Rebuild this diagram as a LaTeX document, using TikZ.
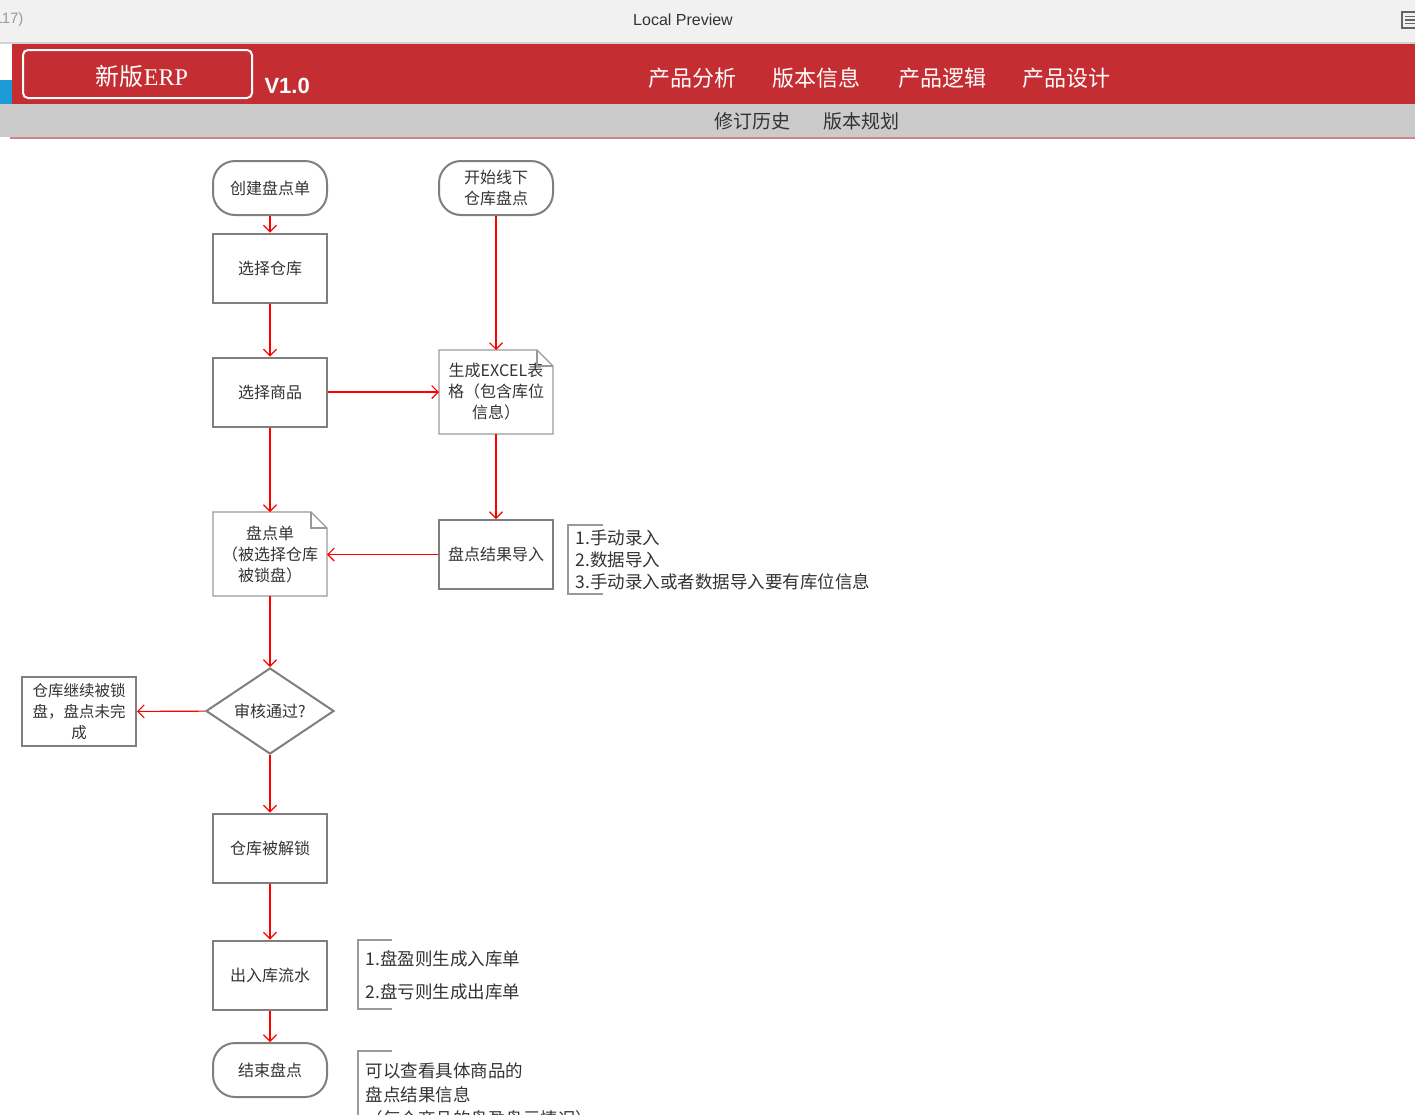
\documentclass[tikz,border=0pt]{standalone}
\usepackage{fontspec}
\setmainfont{Noto Sans CJK SC}
\newfontfamily\lib{Liberation Sans}
\newfontfamily\libser{Liberation Serif}
\usetikzlibrary{shapes.geometric,arrows.meta}
\definecolor{topgray}{HTML}{F1F1F1}
\definecolor{sepgray}{HTML}{D2D2D2}
\definecolor{barred}{HTML}{C42E32}
\definecolor{bargray}{HTML}{CBCBCB}
\definecolor{barblue}{HTML}{1A9AD6}
\definecolor{pinkline}{HTML}{D08484}
\definecolor{boxgray}{HTML}{7F7F7F}
\definecolor{docgray}{HTML}{999999}
\definecolor{txt}{HTML}{333333}
\definecolor{arrred}{HTML}{FF0000}
\definecolor{lightgraytxt}{HTML}{9A9A9A}
\newcommand\mydocpath[1]{%
  \draw[docline] (#1.north west) -- ([xshift=-16pt]#1.north east) -- ([yshift=-16pt]#1.north east) -- (#1.south east) -- (#1.south west) -- cycle;
  \draw[docline] ([xshift=-16pt]#1.north east) |- ([yshift=-16pt]#1.north east);}
\tikzset{
  box/.style={draw=boxgray, line width=2pt, minimum width=114pt, minimum height=69pt, inner sep=2pt, align=center, text=txt, font=\fontsize{16}{21}\selectfont},
  term/.style={box, rounded corners=22pt, minimum height=54pt},
  docnode/.style={minimum width=114pt, minimum height=84pt, outer sep=0pt, inner sep=0pt, align=center, text=txt, font=\fontsize{16}{21}\selectfont},
  docline/.style={draw=docgray, line width=1.2pt},
  dia/.style={diamond, draw=boxgray, line width=2pt, minimum width=128pt, minimum height=86pt, aspect=1.49, inner sep=0pt, text=txt, font=\fontsize{16}{21}\selectfont},
  arr/.style={draw=arrred, line width=1.1pt, -{Straight Barb[length=6.5pt,width=13pt]}},
  brk/.style={draw=docgray, line width=2pt},
  ann/.style={anchor=west, align=left, text=txt},
  menu/.style={text=white, font=\fontsize{22}{22}\selectfont},
  submenu/.style={text=txt, font=\fontsize{19}{19}\selectfont},
}
\begin{document}
\begin{tikzpicture}[x=1pt,y=-1pt]
\useasboundingbox (0,0) rectangle (1415,1114);
% header
\fill[topgray] (0,0) rectangle (1415,42);
\fill[sepgray] (0,42) rectangle (1415,44);
\fill[white] (0,44) rectangle (12,80);
\fill[barblue] (0,80) rectangle (12,104);
\fill[barred] (12,44) rectangle (1415,104);
\fill[bargray] (0,104) rectangle (1415,137);
\fill[pinkline] (10,137) rectangle (1415,139);
\node[anchor=east, text=lightgraytxt, font=\lib\fontsize{15}{15}\selectfont] (pg) at (27,20) {(117)};
\node[text=txt, font=\lib\fontsize{16}{16}\selectfont] (lp) at (683,20) {Local Preview};
\draw[draw=boxgray!80!black, line width=2pt] (1402,12) rectangle (1420,28);
\draw[draw=boxgray!80!black, line width=1.5pt] (1405,16.5) -- (1418,16.5) (1405,20) -- (1418,20) (1405,23.5) -- (1418,23.5);
\node[draw=white, line width=2pt, rounded corners=5pt, minimum width=229pt, minimum height=48pt] (logo) at (137.5,74) {};
\node[text=white, font=\fontsize{24}{24}\selectfont] (logotxt) at (142,76) {新版\libser ERP};
\node[anchor=west, text=white, font=\lib\bfseries\fontsize{22}{22}\selectfont] (ver) at (261,86) {V1.0};
\node[menu] (m1) at (692,78) {产品分析};
\node[menu] (m2) at (816,78) {版本信息};
\node[menu] (m3) at (942,78) {产品逻辑};
\node[menu] (m4) at (1066,78) {产品设计};
\node[submenu] (s1) at (752,121) {修订历史};
\node[submenu] (s2) at (861,121) {版本规划};
% flowchart
\node[term] (create) at (270,188) {创建盘点单};
\node[box] (wh) at (270,268) {选择仓库};
\node[box] (goods) at (270,392) {选择商品};
\node[docnode] (sheet) at (270,554) {盘点单\\（被选择仓库\\被锁盘）};
\mydocpath{sheet}
\node[dia] (audit) at (270,711) {审核通过?};
\node[box, font=\fontsize{15.5}{21}\selectfont] (locked) at (79,711.5) {仓库继续被锁\\盘，盘点未完\\成};
\node[box] (unlock) at (270,848) {仓库被解锁};
\node[box] (flow) at (270,975) {出入库流水};
\node[term] (end) at (270,1070) {结束盘点};
\node[term] (offline) at (496,188) {开始线下\\仓库盘点};
\node[docnode] (excel) at (496,392) {生成EXCEL表\\格（包含库位\\信息）};
\mydocpath{excel}
\node[box] (import) at (496,554.5) {盘点结果导入};
% connectors
\draw[arr] (create) -- (wh);
\draw[arr] (wh) -- (goods);
\draw[arr] (goods) -- (excel);
\draw[arr] (goods) -- (sheet);
\draw[arr] (offline) -- (excel);
\draw[arr] (excel) -- (import);
\draw[arr] (import.west) -- (sheet.east |- import.west);
\draw[arr] (sheet) -- (audit);
\draw[arr] (audit) -- (locked);
\draw[arr] (audit) -- (unlock);
\draw[arr] (unlock) -- (flow);
\draw[arr] (flow) -- (end);
% annotations
\draw[brk] (603,525) -- (568,525) -- (568,594) -- (603,594);
\node[ann, font=\fontsize{17.5}{22}\selectfont] (ann1) at (572,560) {1.手动录入\\2.数据导入\\3.手动录入或者数据导入要有库位信息};
\draw[brk] (392,940) -- (358,940) -- (358,1009) -- (392,1009);
\node[ann, font=\fontsize{17.5}{33}\selectfont] (ann2) at (362,975.5) {1.盘盈则生成入库单\\2.盘亏则生成出库单};
\draw[brk] (392,1051) -- (358,1051) -- (358,1120);
\node[ann, font=\fontsize{17.5}{24}\selectfont] (ann3) at (362,1095) {可以查看具体商品的\\盘点结果信息\\（每个商品的盘盈盘亏情况）};
\end{tikzpicture}
\end{document}
